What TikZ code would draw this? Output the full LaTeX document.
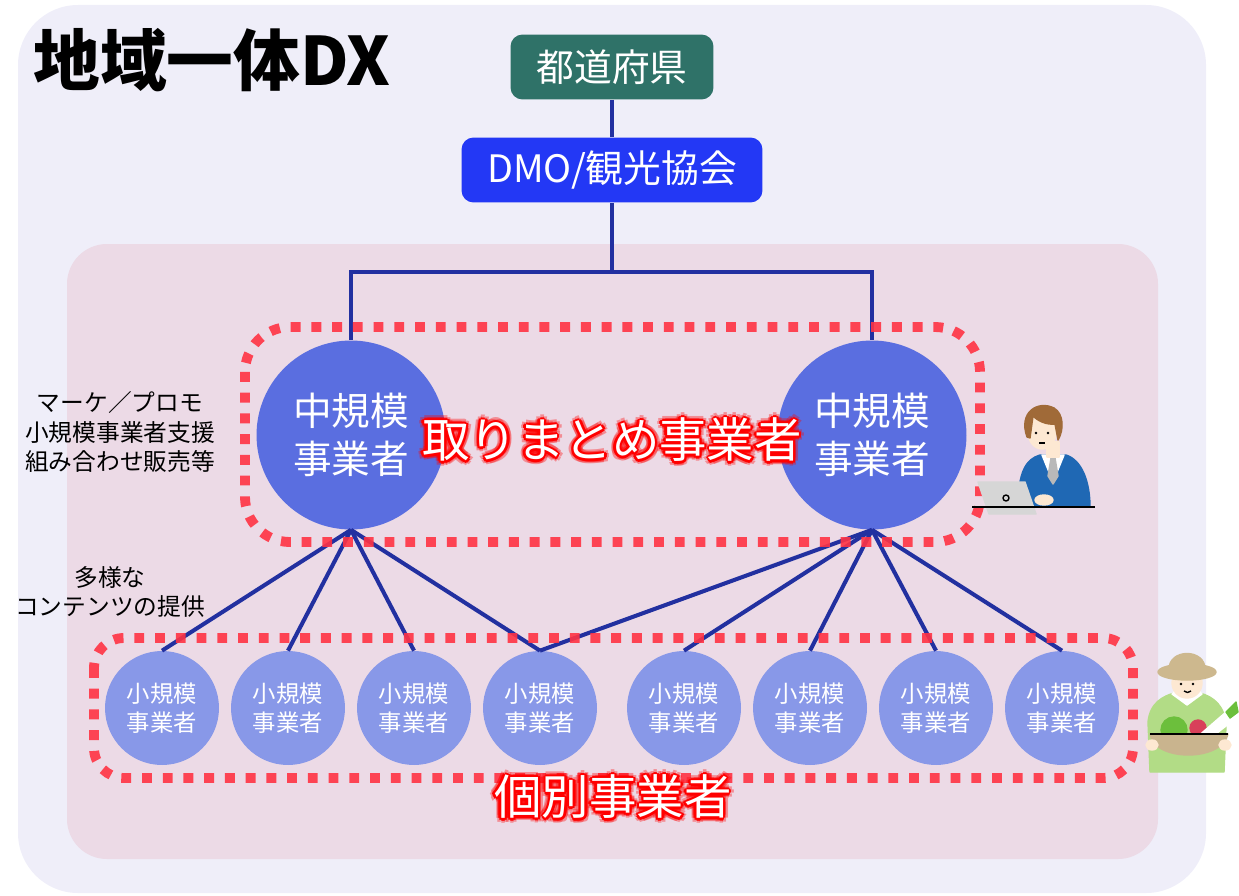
\documentclass[tikz,border=0pt]{standalone}
\usepackage{fontspec}
\setmainfont{Noto Sans CJK JP}
\usetikzlibrary{positioning,calc}
\definecolor{areabg}{HTML}{EFEEF9}
\definecolor{regionbg}{HTML}{ECDAE6}
\definecolor{prefteal}{HTML}{2F7268}
\definecolor{dmoblue}{HTML}{2338F5}
\definecolor{midblue}{HTML}{5A6EE0}
\definecolor{smallblue}{HTML}{8898E8}
\definecolor{linknavy}{HTML}{2230A0}
\definecolor{dotred}{HTML}{FF3344}
\definecolor{glowred}{HTML}{FF0000}
\definecolor{skin}{HTML}{FDE8D2}
\definecolor{hairbrown}{HTML}{A06A38}
\definecolor{suitblue}{HTML}{1F68B4}
\definecolor{laptopgray}{HTML}{D6D6D6}
\definecolor{shirtgreen}{HTML}{B2DC86}
\definecolor{hatbeige}{HTML}{CDB88E}
\definecolor{basketbrown}{HTML}{C9B48E}
\definecolor{veggreen}{HTML}{6CBF3C}
\definecolor{radishred}{HTML}{D8405A}
\tikzset{
  titletext/.style={font=\fontsize{38}{44}\selectfont\bfseries, text=black, inner sep=0pt},
  topbox/.style={
    rounded corners=0.24cm,
    text=white,
    minimum height=1.3cm,
    inner sep=0pt,
    font=\fontsize{21.5}{26}\selectfont
  },
  prefbox/.style={topbox, fill=prefteal, minimum width=4.06cm},
  dmobox/.style={topbox, fill=dmoblue, minimum width=6.02cm},
  midorg/.style={circle, fill=midblue, minimum size=3.78cm, inner sep=0pt,
    text=white, align=center, font=\fontsize{22}{27}\selectfont},
  smallorg/.style={circle, fill=smallblue, minimum size=2.28cm, inner sep=0pt,
    text=white, align=center, font=\fontsize{13.3}{16.5}\selectfont},
  sidenote/.style={align=center, text=black, inner sep=0pt,
    font=\fontsize{13.5}{17}\selectfont},
  link/.style={draw=linknavy, line width=2.3pt},
  dotframe/.style={draw=dotred, draw opacity=0.9, line width=5.6pt,
    dash pattern=on 5.6pt off 6.2pt},
  bigword/.style={inner sep=0pt, font=\fontsize{27}{30}\selectfont},
  glowhalo/.style={bigword, text=glowred},
  glowtext/.style={bigword, text=white},
  ink/.style={draw=black, line width=0.8pt, line join=round}
}
\begin{document}
\begin{tikzpicture}[x=0.02cm,y=-0.02cm]
  \useasboundingbox (0,0) rectangle (1239,895);
  % backgrounds
  \fill[areabg, rounded corners=1.2cm] (18,5) rectangle (1206,893);
  \fill[regionbg, rounded corners=0.8cm] (67,244) rectangle (1158,859);

  \node[titletext, anchor=west] (title) at (33,60) {地域一体DX};

  % hierarchy
  \node[prefbox] (pref) at (612,67) {都道府県};
  \node[dmobox] (dmo) at (612,170) {DMO/観光協会};
  \coordinate (fork) at (612,272);
  \node[midorg] (midL) at (351,435) {中規模\\事業者};
  \node[midorg] (midR) at (872,435) {中規模\\事業者};
  \foreach \x [count=\i] in {162,288,414,540,684,810,936,1062}
    \node[smallorg] (s\i) at (\x,708) {小規模\\事業者};

  \draw[link] (pref) -- (dmo);
  \draw[link] (dmo.south) -- (fork);
  \draw[link] (midL.north) |- (fork) -| (midR.north);
  \foreach \i in {1,...,4}
    \draw[link] (midL.south) -- (s\i.north);
  \foreach \i in {4,...,8}
    \draw[link] (midR.south) -- (s\i.north);

  \node[sidenote] (roleL) at (120,432) {マーケ／プロモ\\小規模事業者支援\\組み合わせ販売等};
  \node[sidenote] (offer) at (110,592) {多様な\\コンテンツの提供};

  % grouping frames
  \draw[dotframe, rounded corners=0.9cm] (245,327) rectangle (980,542);
  \draw[dotframe, rounded corners=0.6cm] (94,638) rectangle (1133,778);

  % glowing group labels: red copies in rings, white on top
  \foreach \ang in {0,45,...,315} {
    \node[glowhalo, opacity=0.35, shift={(\ang:5)}] at (612,440) {取りまとめ事業者};
    \node[glowhalo, shift={(\ang:2.5)}] at (612,440) {取りまとめ事業者};
    \node[glowhalo, opacity=0.35, shift={(\ang:5)}] at (613,797) {個別事業者};
    \node[glowhalo, shift={(\ang:2.5)}] at (613,797) {個別事業者};
  }
  \node[glowtext] (gather) at (612,440) {取りまとめ事業者};
  \node[glowtext] (single) at (613,797) {個別事業者};

  % office worker at a laptop
  \begin{scope}[ink]
    \fill[suitblue, draw] (1018,507) .. controls (1018,472) and (1026,459) .. (1040,455) -- (1066,455) .. controls (1082,460) and (1090,482) .. (1090,507) -- cycle;
    \fill[white, draw] (1042,455) -- (1053,482) -- (1064,455) -- cycle;
    \fill[gray!55, draw] (1051,458) -- (1048,476) -- (1053,484) -- (1058,476) -- (1055,458) -- cycle;
    \fill[skin, draw] (1047,442) rectangle (1059,457);
    \fill[skin, draw] (1042,432) ellipse (14 and 17);
    \fill[hairbrown, draw] (1027,437) .. controls (1018,412) and (1038,400) .. (1054,408) .. controls (1064,414) and (1064,430) .. (1058,440) -- (1055,424) .. controls (1046,425) and (1038,421) .. (1033,416) -- (1030,438) -- cycle;
    \fill (1036,433) circle (1.3);
    \fill (1048,433) circle (1.3);
    \draw (1039,443) -- (1045,443);
    \fill[skin, draw] (1044,500) ellipse (9 and 5);
    \fill[laptopgray, draw] (978,482) -- (1025,482) -- (1036,514) -- (989,514) -- cycle;
    \draw (1006,498) circle (3);
    \draw (972,507) -- (1095,507);
  \end{scope}

  % farmer holding a basket of vegetables
  \begin{scope}[ink]
    \fill[shirtgreen, draw] (1150,772) -- (1148,722) .. controls (1150,702) and (1164,696) .. (1174,693) -- (1200,693) .. controls (1214,697) and (1225,706) .. (1226,726) -- (1224,772) -- cycle;
    \fill[white, draw] (1172,694) -- (1187,705) -- (1202,694) -- (1196,688) -- (1178,688) -- cycle;
    \fill[skin, draw] (1187,683) ellipse (15 and 15);
    \fill[hatbeige, draw] (1187,672) ellipse (29 and 8);
    \fill[hatbeige, draw] (1169,670) .. controls (1168,648) and (1206,648) .. (1205,670) -- cycle;
    \fill (1181,684) circle (1.3);
    \fill (1193,684) circle (1.3);
    \draw (1184,691) .. controls (1186,693) and (1189,693) .. (1191,691);
    \fill[veggreen, draw] (1174,730) circle (13);
    \fill[radishred, draw] (1198,728) circle (8);
    \fill[white, draw] (1196,738) -- (1226,712) .. controls (1232,716) and (1232,722) .. (1226,726) -- (1208,740) -- cycle;
    \fill[veggreen, draw] (1226,712) -- (1236,702) -- (1238,712) -- (1230,718) -- cycle;
    \fill[basketbrown, draw] (1150,734) .. controls (1154,762) and (1222,762) .. (1228,734) -- cycle;
    \draw (1150,734) -- (1228,734);
    \fill[skin, draw] (1152,745) ellipse (6 and 5);
    \fill[skin, draw] (1225,745) ellipse (6 and 5);
  \end{scope}
\end{tikzpicture}
\end{document}
